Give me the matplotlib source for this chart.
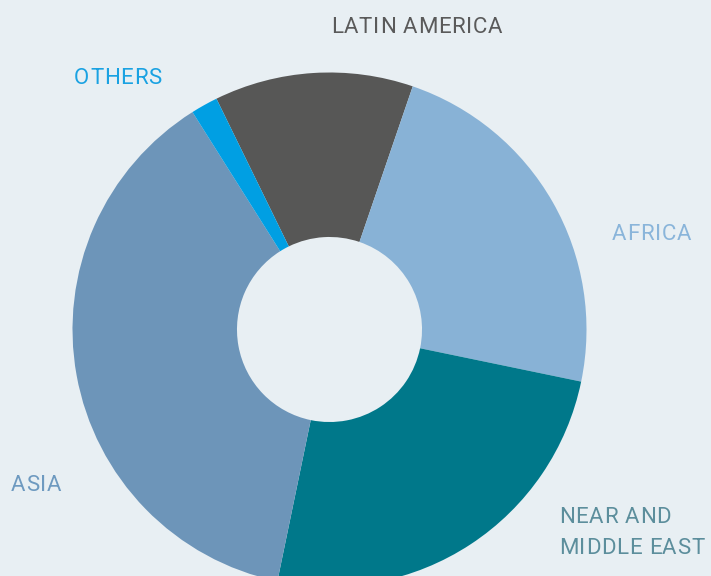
import matplotlib
matplotlib.use("Agg")
import matplotlib.pyplot as plt
from matplotlib import font_manager, ft2font

regions = ["LATIN AMERICA", "AFRICA", "NEAR AND\nMIDDLE EAST", "ASIA", "OTHERS"]
shares = [12.5, 23.0, 25.0, 37.8, 1.7]
slice_colors = ["#575756", "#88B2D6", "#00788A", "#6D95B9", "#009FE3"]
text_colors = ["#5A5A5A", "#8AB5DA", "#5C8E9C", "#6E9AC0", "#1AA2E2"]

bg = "#E8EFF3"
W, H = 711, 576
FS = 16
TRACK = 0.7  # extra px between letters

fig = plt.figure(figsize=(W / 100, H / 100), dpi=100, facecolor=bg)
ax = fig.add_axes([0, 0, 1, 1])
ax.set_facecolor(bg)

radius = 257
ax.pie(shares, colors=slice_colors, startangle=116.1, counterclock=False,
       radius=radius, center=(329.5, H - 329.5),
       wedgeprops=dict(width=radius * 0.64, edgecolor="none"))

ax.set_xlim(0, W)
ax.set_ylim(0, H)
ax.set_aspect("equal")
ax.axis("off")

# letter-spaced text, placed glyph by glyph
fp = font_manager.FontProperties(family="Roboto", weight="normal", size=FS)
font = ft2font.FT2Font(font_manager.findfont(fp))
font.set_size(FS, 100)


def spaced(x, y, s, color):
    for ch in s:
        ax.text(x, H - y, ch, color=color, fontproperties=fp,
                ha="left", va="baseline")
        x += font.load_char(ord(ch)).linearHoriAdvance / 65536 + TRACK


# label anchors in pixels (left edge, baseline of each line)
label_pos = [(331, [33]), (612, [240]), (559, [523, 554]), (11, [491]), (74, [84])]
for name, col, (x, ys) in zip(regions, text_colors, label_pos):
    for line, y in zip(name.split("\n"), ys):
        spaced(x, y, line, col)

fig.savefig("out.png", dpi=100, facecolor=bg)
